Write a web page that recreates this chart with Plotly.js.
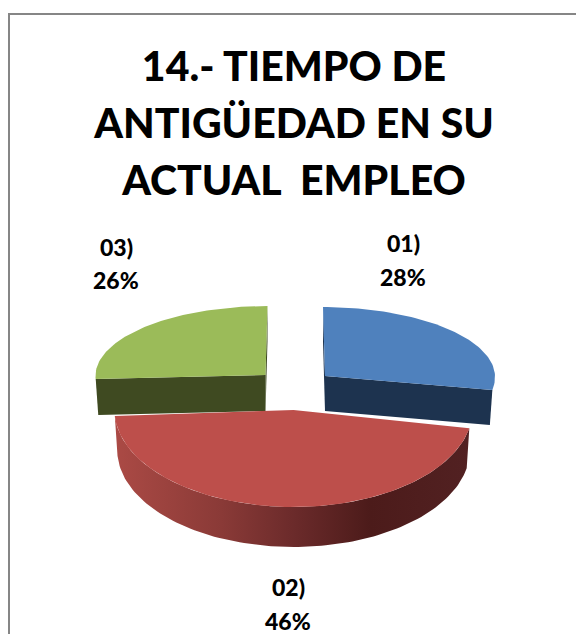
<!DOCTYPE html>
<html>
<head>
<meta charset="utf-8">
<script src="https://cdn.plot.ly/plotly-3.0.1.min.js"></script>
<style>html,body{margin:0;padding:0;background:#fff;overflow:hidden}#chart{width:576px;height:634px}</style>
</head>
<body>
<div id="chart"></div>
<script>
// Data
const categories = ['01)', '02)', '03)'];
const percents = [28, 46, 26];
const titleLines = ['14.- TIEMPO DE', 'ANTIGÜEDAD EN SU', 'ACTUAL  EMPLEO'];

// Styles
const topColors = ['#4f81bd', '#bd4f4b', '#9bbb59'];
const cutColors = ['#1d334f', '#4c1c1b', '#3f4a21'];
const redWallScale = [[0, '#ab4a45'], [0.3, '#8a3a37'], [0.5, '#6c2b2b'], [0.72, '#4c1b1a'], [1, '#522122']];

// Projection of each exploded slice (screen pixels on the hidden axes)
const view = [
  {cx: 325, cy: 376, a: 170, back: 69, front: 75, tilt: 2, depth: 35, shrink: 0.985},
  {cx: 293.5, cy: 410, a: 179, back: 69, front: 97, tilt: 0, depth: 40, shrink: 0.985},
  {cx: 265.5, cy: 375, a: 170, back: 69, front: 65, tilt: -2, depth: 36, shrink: 0.985}
];
const labelX = [403, 288, 116];
const labelY = [[243, 277], [587, 621], [247, 280]];

function rimPoint(v, deg, bottom) {
  const t = deg * Math.PI / 180, u = Math.sin(t), w = -Math.cos(t);
  const x = v.a * u + v.tilt * w;
  const y = w * (w < 0 ? v.back : v.front);
  return bottom ? [v.cx + x * v.shrink, v.cy + y + v.depth] : [v.cx + x, v.cy + y];
}
function arc(v, from, to, bottom) {
  const n = Math.max(2, Math.ceil(Math.abs(to - from) / 1.5)), pts = [];
  for (let i = 0; i <= n; i++) pts.push(rimPoint(v, from + (to - from) * i / n, bottom));
  return pts;
}
function poly(pts, color, name, extra) {
  const closed = pts.concat([pts[0]]);
  return Object.assign({
    type: 'scatter', mode: 'lines', name: name,
    x: closed.map(p => p[0]), y: closed.map(p => p[1]),
    fill: 'toself', fillcolor: color, line: {width: 0, color: color},
    hoverinfo: 'skip', showlegend: false
  }, extra || {});
}

const total = percents.reduce((s, p) => s + p, 0);
let angle = 0;
const slices = percents.map((p, i) => {
  const s = {i: i, from: angle, to: angle + p / total * 360, v: view[i]};
  angle = s.to;
  return s;
});

const traces = [];
// far slices first, the front slice over them
[0, 2, 1].forEach(k => {
  const s = slices[k], v = s.v, apexT = [v.cx, v.cy], apexB = [v.cx, v.cy + v.depth];
  if (k === 1) {
    const outer = arc(v, s.from, s.to, false).concat(arc(v, s.to, s.from, true));
    traces.push(poly(outer, cutColors[k], categories[k] + ' wall', {
      fillgradient: {type: 'horizontal', colorscale: redWallScale}
    }));
  } else {
    [s.from, s.to].forEach(a => {
      traces.push(poly([apexT, rimPoint(v, a, false), rimPoint(v, a, true), apexB], cutColors[k], categories[k] + ' cut'));
    });
  }
  traces.push(poly([apexT].concat(arc(v, s.from, s.to, false)), topColors[k], categories[k]));
});

const annotations = [];
categories.forEach((c, i) => {
  [c, percents[i] + '%'].forEach((t, j) => {
    annotations.push({
      xref: 'x', yref: 'y', x: labelX[i], y: labelY[i][j], text: t, showarrow: false,
      xanchor: 'center', yanchor: 'middle',
      font: {family: 'Lato, sans-serif', size: 23, color: '#000', weight: 900}
    });
  });
});

const layout = {
  width: 576, height: 634,
  margin: {l: 0, r: 0, t: 0, b: 0},
  paper_bgcolor: '#fff', plot_bgcolor: '#fff',
  showlegend: false, hovermode: false,
  xaxis: {range: [0, 576], visible: false, fixedrange: true},
  yaxis: {range: [634, 0], visible: false, fixedrange: true},
  title: {
    text: titleLines.map(l => '<span style="font-size:41px">' + l + '</span>').join('<br>'),
    x: 294 / 576, xanchor: 'center', y: 1 - 81 / 634, yanchor: 'top', yref: 'container', xref: 'paper',
    automargin: false,
    font: {family: 'Lato, sans-serif', size: 44, color: '#000', weight: 900}
  },
  shapes: [
    {type: 'line', xref: 'x', yref: 'y', x0: 9, y0: 14, x1: 9, y1: 634, line: {color: '#868686', width: 2}},
    {type: 'line', xref: 'x', yref: 'y', x0: 8, y0: 14, x1: 576, y1: 14, line: {color: '#868686', width: 2}}
  ],
  annotations: annotations
};

Plotly.newPlot('chart', traces, layout, {displayModeBar: false, staticPlot: true});
</script>
</body>
</html>
